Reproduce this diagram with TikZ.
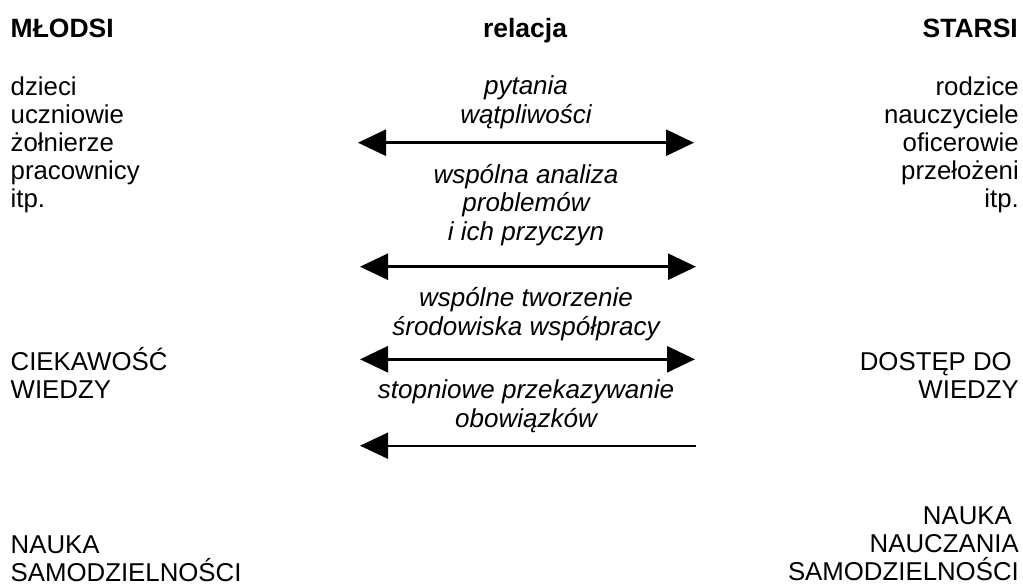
\documentclass[tikz,border=0pt]{standalone}
\usepackage{fontspec}
\setmainfont{Liberation Sans}
\usetikzlibrary{arrows.meta}
\begin{document}
\begin{tikzpicture}[x=1pt,y=-1pt,
  head/.style={font=\bfseries\fontsize{26.5}{30}\selectfont, inner sep=0pt},
  side/.style={font=\fontsize{25.8}{28}\selectfont, inner sep=0pt},
  lside/.style={side, anchor=base west, align=left},
  rside/.style={side, anchor=base east, align=right},
  rel/.style={font=\itshape\fontsize{26}{28.5}\selectfont, inner sep=0pt, anchor=base, align=center},
  tip/.tip={Triangle[length=28pt,width=26pt]},
  both/.style={line width=2.7pt, tip-tip},
  back/.style={line width=1.7pt, tip-}]
\useasboundingbox (0,0) rectangle (1023,584);

% column headers
\node[head, anchor=base west] (hmlodsi) at (10.5,37) {MŁODSI};
\node[head, anchor=base] (hrel) at (525,37) {relacja};
\node[head, anchor=base east] (hstarsi) at (1018,37) {STARSI};

% the two groups (anchored on the baseline of the last line)
\node[lside] (mlodsi) at (10.5,207) {dzieci\\uczniowie\\żołnierze\\pracownicy\\itp.};
\node[rside] (starsi) at (1019,207) {rodzice\\nauczyciele\\oficerowie\\przełożeni\\itp.};

% what each side brings
\node[lside] (ciek) at (10.5,398) {CIEKAWOŚĆ\\WIEDZY};
\node[rside] (dostep) at (1019,398) {DOSTĘP DO\kern7pt\\WIEDZY};
\node[lside] (naukal) at (10.5,581) {NAUKA\\SAMODZIELNOŚCI};
\node[rside] (naukar) at (1019,580) {NAUKA\kern7pt\\NAUCZANIA\\SAMODZIELNOŚCI};

% forms of the relation
\node[rel] (r1) at (526,123) {pytania\\wątpliwości};
\node[rel] (r2) at (526,240) {wspólna analiza\\problemów\\i ich przyczyn};
\node[rel] (r3) at (526,335) {wspólne tworzenie\\środowiska współpracy};
\node[rel] (r4) at (526,427) {stopniowe przekazywanie\\obowiązków};

% arrow ends
\coordinate (a1l) at (358,142.7);
\coordinate (a1r) at (694,142.7);
\coordinate (a2l) at (360,266.7);
\coordinate (a2r) at (696,266.7);
\coordinate (a3l) at (360,359.3);
\coordinate (a3r) at (695,359.3);
\coordinate (a4l) at (360,445.7);
\coordinate (a4r) at (696,445.7);

\draw[both] (a1l) -- (a1r);
\draw[both] (a2l) -- (a2r);
\draw[both] (a3l) -- (a3r);
\draw[back] (a4l) -- (a4r);
\end{tikzpicture}
\end{document}
